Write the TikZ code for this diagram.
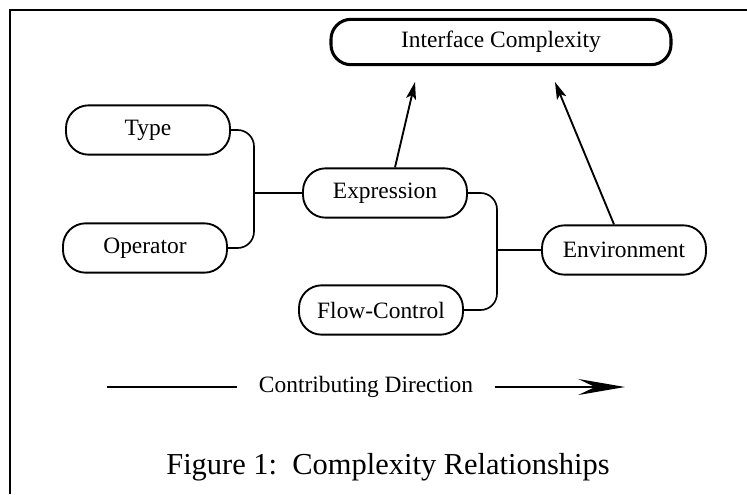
\documentclass[tikz,border=0pt]{standalone}
\usepackage{fontspec}
\setmainfont{Liberation Serif}
\usepackage{tikz}
\usetikzlibrary{arrows.meta, positioning, calc}
\tikzset{
	term/.style     ={rectangle, rounded corners=0.34cm, draw=black, line width=0.8pt, minimum width=2.46cm, minimum height=0.74cm, align=center, font=\fontsize{10}{12}\selectfont},
	goal/.style     ={term, line width=1.3pt, minimum width=5.1cm, minimum height=0.68cm, rounded corners=0.3cm},
	link/.style     ={line width=0.7pt, rounded corners=7pt},
	upto/.style     ={-{Stealth[length=2.6mm, width=1.5mm, inset=0.6mm]}, line width=0.8pt},
	dirarrow/.style ={-{Stealth[length=7mm, width=2.4mm, inset=2.5mm]}, line width=1.2pt},
}

\begin{document}
\begin{tikzpicture}[x=0.015cm, y=-0.015cm]
	\useasboundingbox (0,0) rectangle (747,494);
	% frame of the scan
	\draw[line width=0.9pt] (10,494) -- (10,10) -- (747,10);
	% boxes
	\node[goal] (ic)   at (501,42)  {Interface Complexity};
	\node[term] (type) at (148,130) {Type};
	\node[term] (op)   at (145,248) {Operator};
	\node[term] (expr) at (385,193) {Expression};
	\node[term] (env)  at (624,250) {Environment};
	\node[term] (flow) at (381,310) {Flow-Control};
	% junctions
	\coordinate (j1) at (254,193);
	\coordinate (j2) at (497,250);
	\draw[link] (type.east) -| (j1);
	\draw[link] (op.east) -| (j1);
	\draw[link] (j1) -- (expr.west);
	\draw[link] (expr.east) -| (j2);
	\draw[link] (flow.east) -| (j2);
	\draw[link] (j2) -- (env.west);
	% contributions to the interface
	\coordinate (t1) at (415,82);
	\coordinate (t2) at (555,82);
	\draw[upto] ($(expr.north)+(10,0)$) -- (t1);
	\draw[upto] ($(env.north)+(-10,0)$) -- (t2);
	% direction legend
	\node[font=\fontsize{10}{12}\selectfont, inner xsep=9pt] (dir) at (366,387) {Contributing Direction};
	\coordinate (dL) at (107,387);
	\coordinate (dR) at (625,387);
	\draw[line width=1.2pt] (dL) -- (dir.west);
	\draw[dirarrow] (dir.east) -- (dR);
	% caption
	\node[font=\fontsize{13}{15}\selectfont] (cap) at (388,467) {Figure 1:\ \ Complexity Relationships};
\end{tikzpicture}
\end{document}
